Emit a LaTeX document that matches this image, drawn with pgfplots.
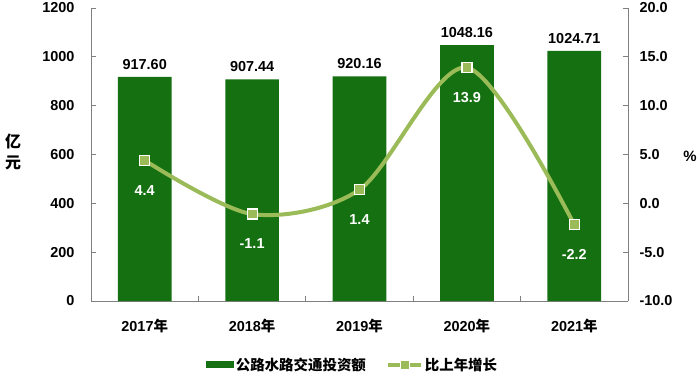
\documentclass[border=0pt]{standalone}
\usepackage{fontspec}
\setmainfont{Liberation Sans}
\newfontfamily\cjk{Noto Sans CJK SC}
\usepackage{pgfplots}
\pgfplotsset{compat=1.18}
\definecolor{bargreen}{RGB}{20,112,16}
\definecolor{linegreen}{RGB}{155,187,89}
\definecolor{axgray}{RGB}{128,128,128}
\pgfplotsset{
  /pgf/number format/assume math mode=true,
  /pgf/number format/1000 sep={},
  common/.style={
    width=537bp, height=293bp, scale only axis,
    at={(0,0)}, anchor=south west,
    xmin=-0.5, xmax=4.5,
    axis line style={axgray, line width=0.8pt},
    tick style={axgray, line width=0.8pt},
    major tick length=5bp, minor tick length=5bp,
    tick align=inside,
    tick label style={font=\bfseries\fontsize{14.5}{16}\selectfont, black},
  }
}
\begin{document}
\begin{tikzpicture}
\path[use as bounding box] (-91bp,-77bp) rectangle (609bp,301bp);
\begin{axis}[common,
  ymin=0, ymax=1200, ytick={0,200,...,1200},
  axis x line*=bottom, axis y line*=left,
  xtick={0,1,2,3,4},
  xticklabels={{2017\cjk 年},{2018\cjk 年},{2019\cjk 年},{2020\cjk 年},{2021\cjk 年}},
  major x tick style={draw=none},
  minor xtick={0.5,1.5,2.5,3.5},
  yticklabel style={xshift=-13bp},
  xticklabel style={yshift=-15bp},
  legend style={at={(0.487,-0.218)}, anchor=center, draw=none, fill=none,
    legend columns=2, font=\cjk\bfseries\fontsize{14.5}{16}\selectfont,
    /tikz/every even column/.append style={column sep=18bp}},
]
\addplot[ybar, bar width=0.5, fill=bargreen, draw=none,
  point meta=y,
  nodes near coords={\pgfmathprintnumber[fixed, fixed zerofill, precision=2]{\pgfplotspointmeta}},
  nodes near coords style={font=\bfseries\fontsize{14.5}{16}\selectfont, black, anchor=south, yshift=4bp},
  legend image code/.code={\fill[bargreen] (0bp,-3.5bp) rectangle (28bp,3.5bp);}
] coordinates {(0,917.60) (1,907.44) (2,920.16) (3,1048.16) (4,1024.71)};
\addlegendentry{公路水路交通投资额}
\addlegendimage{legend image code/.code={
  \draw[linegreen, line width=4bp] (0bp,0bp) -- (33bp,0bp);
  \draw[fill=linegreen, draw=white, line width=1.2bp] (12.5bp,-4.5bp) rectangle (21.5bp,4.5bp);}}
\addlegendentry{比上年增长}
\end{axis}
\begin{axis}[common,
  ymin=-10, ymax=20, ytick={-10,-5,...,20},
  axis y line*=right, axis x line=none,
  yticklabel style={/pgf/number format/.cd, fixed, fixed zerofill, precision=1, /tikz/.cd, xshift=8bp},
]
\addplot[linegreen, line width=4bp, smooth,
  mark=square*, mark size=5bp,
  mark options={fill=linegreen, draw=white, line width=1.2bp, solid},
  point meta=y,
  nodes near coords={\pgfmathprintnumber[fixed, precision=1]{\pgfplotspointmeta}},
  nodes near coords style={font=\bfseries\fontsize{14.5}{16}\selectfont, white, anchor=north, yshift=-21bp},
] coordinates {(0,4.4) (1,-1.1) (2,1.4) (3,13.9) (4,-2.2)};
\end{axis}
\node[font=\cjk\bfseries\fontsize{16}{21}\selectfont, align=center] at (-78bp,149bp) {亿\\元};
\node[font=\bfseries\fontsize{15}{17}\selectfont] at (599bp,145bp) {\%};
\end{tikzpicture}
\end{document}
